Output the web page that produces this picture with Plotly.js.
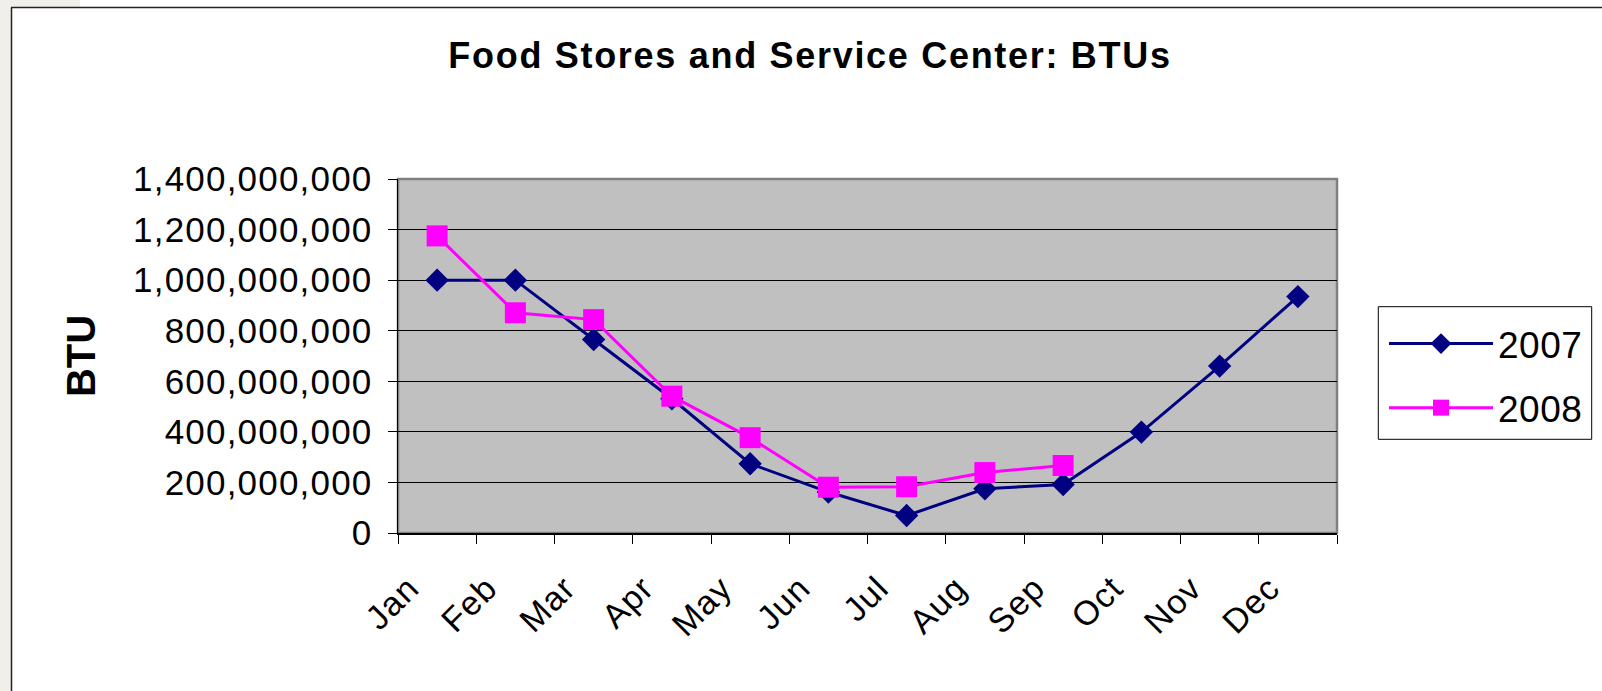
<!DOCTYPE html>
<html>
<head>
<meta charset="utf-8">
<script src="https://cdn.plot.ly/plotly-3.0.1.min.js"></script>
<style>
  html, body { margin: 0; padding: 0; background: #ffffff; }
  #chart { width: 1602px; height: 691px; }
  #chart .gtitle { letter-spacing: 1.7px; }
  #chart .ytick text { letter-spacing: 1.2px; }
  #chart .xtick text { letter-spacing: 1.2px; }
  #chart .legendtext { letter-spacing: 0.5px; }
</style>
</head>
<body>
<div id="chart"></div>
<script>
// ---- data ----
var months = ['Jan', 'Feb', 'Mar', 'Apr', 'May', 'Jun', 'Jul', 'Aug', 'Sep', 'Oct', 'Nov', 'Dec'];
var btu2007 = [1000000000, 1000000000, 765000000, 531000000, 274000000, 162000000, 69000000, 175000000, 192000000, 399000000, 660000000, 935000000];
var months2008 = ['Jan', 'Feb', 'Mar', 'Apr', 'May', 'Jun', 'Jul', 'Aug', 'Sep'];
var btu2008 = [1175000000, 871000000, 844000000, 541000000, 377000000, 181000000, 183000000, 239000000, 267000000];
var yTicks = [0, 200000000, 400000000, 600000000, 800000000, 1000000000, 1200000000, 1400000000];

// ---- layout geometry (pixels) ----
var W = 1602, H = 691;
var M = { l: 398, r: 265, t: 179, b: 158 };
var PW = W - M.l - M.r, PH = H - M.t - M.b;
function px(x) { return (x - M.l) / PW; }
function py(y) { return (H - M.b - y) / PH; }

var FONT = '"Liberation Sans", Arial, Helvetica, sans-serif';

var traces = [
  {
    x: months, y: btu2007, name: '2007', type: 'scatter', mode: 'lines+markers',
    legendgroup: 'a',
    line: { color: '#000080', width: 3 },
    marker: { symbol: 'diamond', size: 18, color: '#000080', line: { width: 0 } },
    hoverinfo: 'skip'
  },
  {
    x: months2008, y: btu2008, name: '2008', type: 'scatter', mode: 'lines+markers',
    legendgroup: 'b',
    line: { color: '#ff00ff', width: 3 },
    marker: { symbol: 'square', size: 21, color: '#ff00ff', line: { width: 0 } },
    hoverinfo: 'skip'
  }
];

var layout = {
  width: W, height: H,
  margin: M,
  paper_bgcolor: '#ffffff',
  plot_bgcolor: '#c0c0c0',
  showlegend: true,
  font: { family: FONT, color: '#000000' },
  title: {
    text: '<b>Food Stores and Service Center: BTUs</b>',
    font: { family: FONT, size: 36, color: '#000000' },
    xref: 'container', yref: 'container',
    x: 810 / W, xanchor: 'center',
    y: 1 - 55 / H, yanchor: 'middle'
  },
  xaxis: {
    type: 'category',
    categoryorder: 'array', categoryarray: months,
    range: [-0.5, 11.5],
    tickson: 'boundaries',
    ticks: 'outside', ticklen: 9, tickwidth: 1, tickcolor: '#000000',
    showgrid: false, zeroline: false,
    showline: true, linecolor: '#000000', linewidth: 1.5,
    tickangle: -45,
    tickfont: { family: FONT, size: 34, color: '#000000' },
    ticklabelstandoff: 20,
    ticklabelshift: -28,
    automargin: false,
    fixedrange: true
  },
  yaxis: {
    range: [0, 1400000000],
    tickvals: yTicks,
    tickformat: ',d',
    ticks: 'outside', ticklen: 9, tickwidth: 1, tickcolor: '#000000',
    showgrid: true, gridcolor: '#000000', gridwidth: 1,
    zeroline: false,
    showline: true, linecolor: '#000000', linewidth: 1.5,
    tickfont: { family: FONT, size: 35, color: '#000000' },
    ticklabelstandoff: 8,
    title: { text: '<b>BTU</b>', font: { family: FONT, size: 40, color: '#000000' }, standoff: 40 },
    automargin: false,
    fixedrange: true
  },
  legend: {
    x: px(1384), xanchor: 'left',
    y: py(313), yanchor: 'top',
    bgcolor: 'rgba(0,0,0,0)',
    borderwidth: 0,
    font: { family: FONT, size: 37, color: '#000000' },
    itemwidth: 104,
    traceorder: 'grouped',
    tracegroupgap: 13
  },
  shapes: [
    // page left strip
    { type: 'rect', xref: 'paper', yref: 'paper', x0: px(0), x1: px(11), y0: py(H), y1: py(0),
      line: { width: 0 }, fillcolor: '#f0efeb', layer: 'below' },
    { type: 'rect', xref: 'paper', yref: 'paper', x0: px(0), x1: px(80), y0: py(7), y1: py(0),
      line: { width: 0 }, fillcolor: '#f0efeb', layer: 'below' },
    // chart frame: left and top lines
    { type: 'line', xref: 'paper', yref: 'paper', x0: px(11.5), x1: px(11.5), y0: py(7.5), y1: py(H + 2),
      line: { color: '#222222', width: 1.5 } },
    { type: 'line', xref: 'paper', yref: 'paper', x0: px(11), x1: px(W + 2), y0: py(7.5), y1: py(7.5),
      line: { color: '#222222', width: 1.5 } },
    // plot-area border
    { type: 'rect', xref: 'paper', yref: 'paper', x0: 0, x1: 1, y0: 0, y1: 1,
      line: { color: '#808080', width: 2.5 }, fillcolor: 'rgba(0,0,0,0)', layer: 'below' },
    // legend box
    { type: 'rect', xref: 'paper', yref: 'paper', x0: px(1378.3), x1: px(1591.7), y0: py(439.3), y1: py(306.7),
      line: { color: '#000000', width: 1 }, fillcolor: '#ffffff', layer: 'below' }
  ]
};

Plotly.newPlot('chart', traces, layout, { displayModeBar: false, staticPlot: true });
</script>
</body>
</html>
